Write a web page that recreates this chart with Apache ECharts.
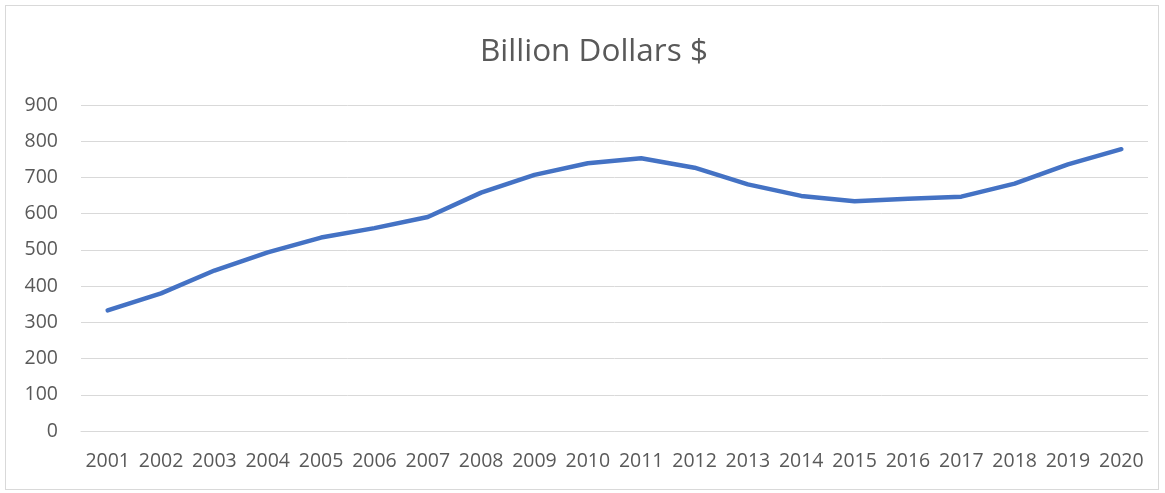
<!DOCTYPE html>
<html>
<head>
<meta charset="utf-8">
<script src="https://cdn.jsdelivr.net/npm/echarts@6/dist/echarts.min.js"></script>
<style>
  html, body { margin: 0; padding: 0; background: #ffffff; }
  #frame { position: absolute; left: 5px; top: 5px; width: 1154px; height: 485px; border: 1px solid #d9d9d9; box-sizing: border-box; }
  #chart { position: absolute; left: 0; top: 0; width: 1165px; height: 493px; }
</style>
</head>
<body>
<div id="frame"></div>
<div id="chart"></div>
<script>
// Years on the category axis
const years = ['2001','2002','2003','2004','2005','2006','2007','2008','2009','2010',
               '2011','2012','2013','2014','2015','2016','2017','2018','2019','2020'];
// Amounts in billion dollars
const amounts = [333, 380, 443, 493, 534, 560, 591, 658, 707, 739,
                 753, 727, 681, 649, 634, 641, 647, 683, 736, 778];
const chartTitle = 'Billion Dollars $';

const chart = echarts.init(document.getElementById('chart'), null, { renderer: 'canvas' });
chart.setOption({
  backgroundColor: 'transparent',
  animation: false,
  title: {
    text: chartTitle,
    left: 475,
    top: 31,
    textStyle: { fontFamily: 'Open Sans', fontSize: 31.5, fontWeight: 'normal', color: '#595959' }
  },
  grid: { left: 81, right: 17, top: 105, bottom: 62, containLabel: false },
  xAxis: {
    type: 'category',
    data: years,
    boundaryGap: true,
    axisLine: { lineStyle: { color: '#d9d9d9', width: 1 } },
    axisTick: { show: false },
    axisLabel: { fontFamily: 'Open Sans', fontSize: 19.5, color: '#595959', margin: 20, interval: 0 }
  },
  yAxis: {
    type: 'value',
    min: 0,
    max: 900,
    interval: 100,
    axisLine: { show: false },
    axisTick: { show: false },
    splitLine: { lineStyle: { color: '#d9d9d9', width: 1 } },
    axisLabel: { fontFamily: 'Open Sans', fontSize: 19.5, color: '#595959', margin: 23 }
  },
  series: [{
    type: 'line',
    data: amounts,
    showSymbol: false,
    smooth: false,
    lineStyle: { color: '#4472C4', width: 4.5, cap: 'round', join: 'round' }
  }]
});
</script>
</body>
</html>
